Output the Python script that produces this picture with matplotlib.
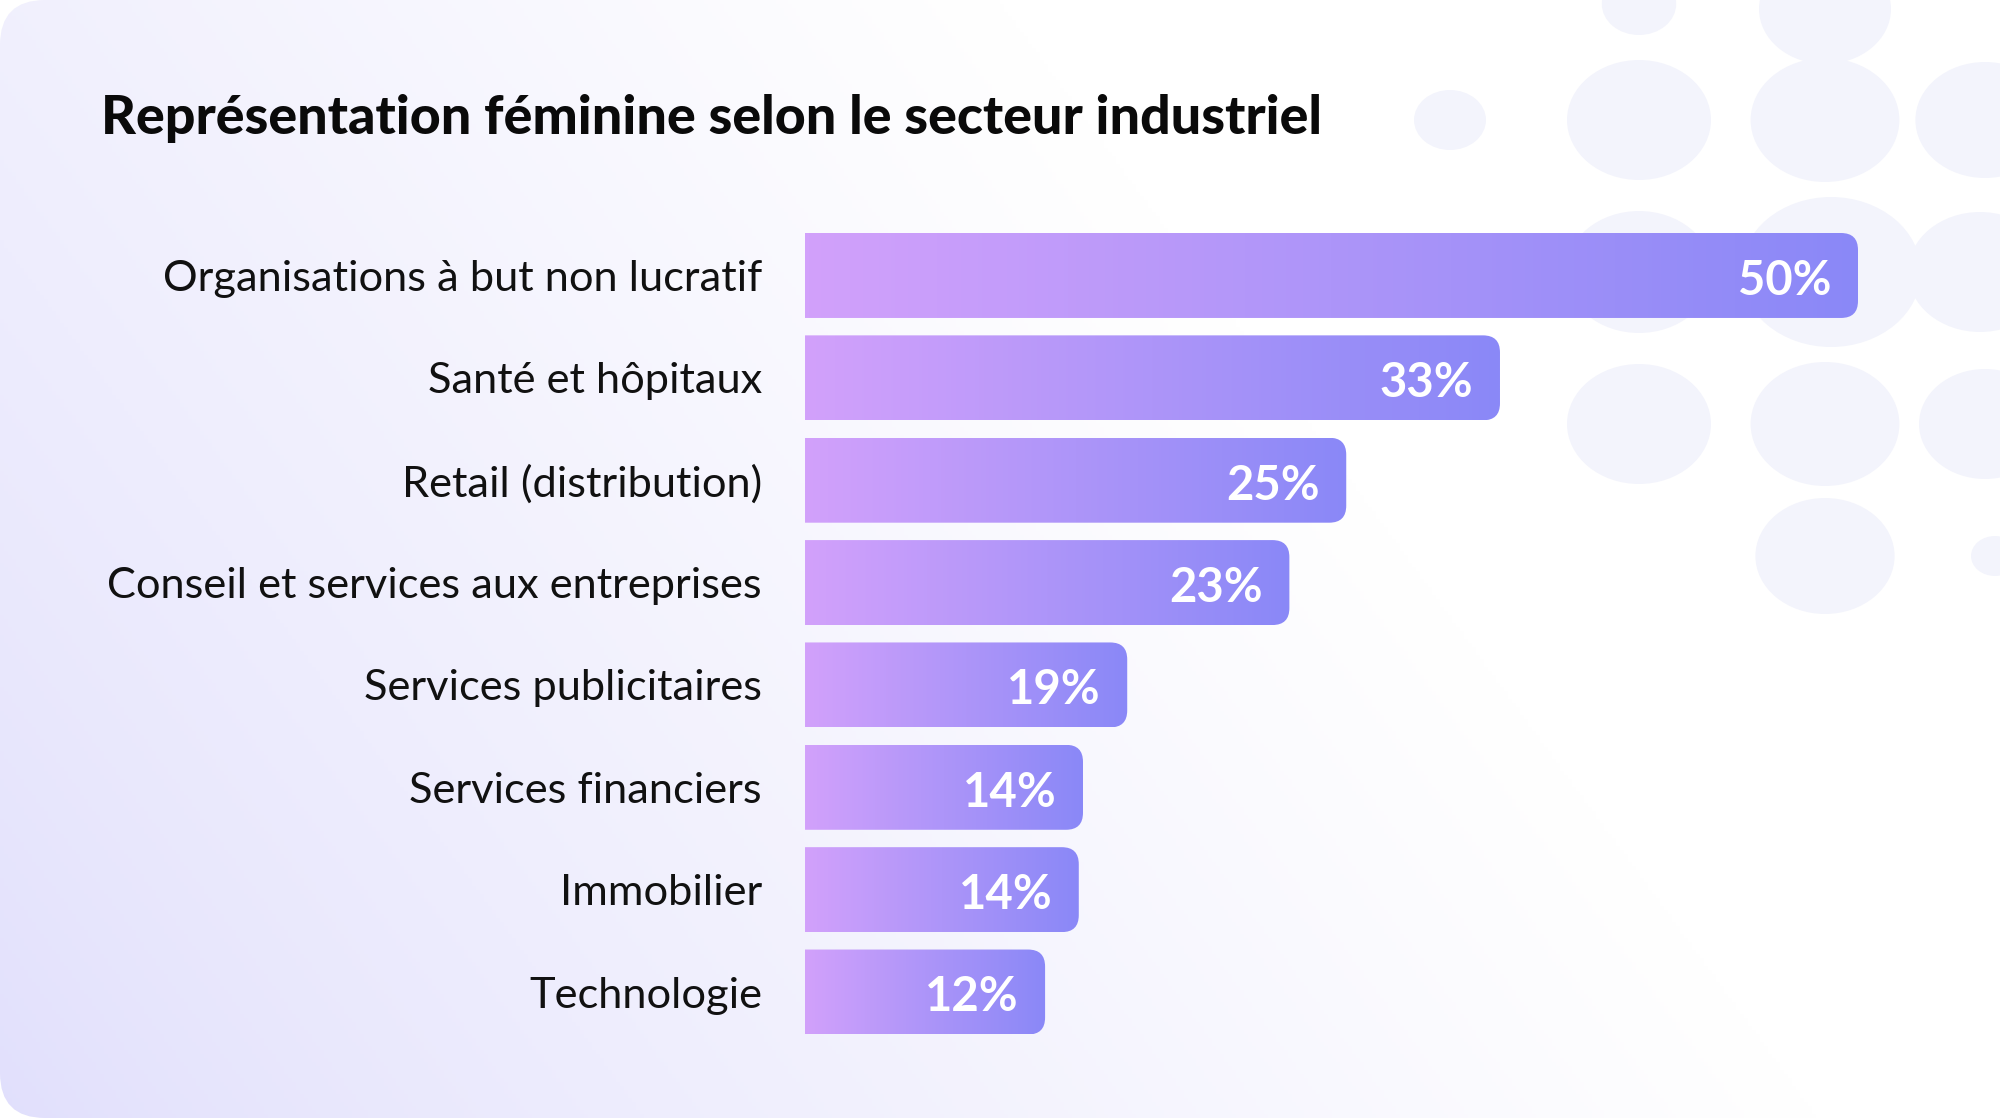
import numpy as np
import matplotlib.pyplot as plt
from matplotlib.colors import LinearSegmentedColormap
from matplotlib.patches import FancyBboxPatch, PathPatch, Ellipse
from matplotlib.path import Path

title = "Représentation féminine selon le secteur industriel"
sectors = [
    "Organisations à but non lucratif",
    "Santé et hôpitaux",
    "Retail (distribution)",
    "Conseil et services aux entreprises",
    "Services publicitaires",
    "Services financiers",
    "Immobilier",
    "Technologie",
]
values = [50, 33, 25, 23, 19, 14, 14, 12]
# lengths of the bars as drawn in the picture (not exactly proportional to the labels)
bar_lengths = [50, 33, 25.7, 23, 15.3, 13.2, 13.0, 11.4]

W, H = 2000, 1118
plt.rcParams['font.family'] = ['Lato', 'DejaVu Sans']
fig = plt.figure(figsize=(W / 100, H / 100), dpi=100)

# background card with a soft lavender gradient
bg = fig.add_axes([0, 0, 1, 1])
bg.set_xlim(0, W)
bg.set_ylim(H, 0)
bg.axis('off')
xx, yy = np.meshgrid(np.linspace(0, 1, 500), np.linspace(0, 1, 280))
t = np.clip(xx * 1.1 + (1 - yy) * 0.45, 0, 1) ** 0.8
lav = np.array([0.882, 0.875, 0.988])
img = lav + (1 - lav) * t[..., None]
im = bg.imshow(img, extent=(0, W, H, 0), aspect='auto', zorder=0)
card = FancyBboxPatch((0, 0), W, H, boxstyle='round,pad=0,rounding_size=45',
                      facecolor='none', edgecolor='none')
bg.add_patch(card)
im.set_clip_path(card)

# faint decorative dots, top right
dots = [(1450, 120, 30), (1639, 120, 60), (1825, 120, 62), (1985, 120, 58),
        (1639, 4, 31), (1825, 9, 55),
        (1639, 272, 61), (1831, 272, 75), (1980, 272, 60),
        (1639, 424, 60), (1825, 424, 62), (1985, 424, 55),
        (1825, 556, 58), (1995, 556, 20)]
for cx, cy, r in dots:
    e = Ellipse((cx, cy), 2.4 * r, 2 * r, facecolor='#f3f4fc', edgecolor='none', zorder=1)
    bg.add_patch(e)
    e.set_clip_path(card)

# bars
px_per_unit = 21.06
ax_left, ax_right = 805, 1950
ax_top, ax_bottom = 224.3, 1043.2
ax = fig.add_axes([ax_left / W, 1 - ax_bottom / H,
                   (ax_right - ax_left) / W, (ax_bottom - ax_top) / H])
ax.patch.set_alpha(0)
for s in ax.spines.values():
    s.set_visible(False)

xmax = (ax_right - ax_left) / px_per_unit
n = len(sectors)
bar_h = 0.83
row_px = (ax_bottom - ax_top) / n
rx = 17 / px_per_unit
ry = 17 / row_px

cmap = LinearSegmentedColormap.from_list('bar', ['#d2a1fb', '#ad95f9', '#8a88f7'])
grad = np.linspace(0, 1, 256).reshape(1, -1)

for i, (L, v) in enumerate(zip(bar_lengths, values)):
    y0, y1 = i - bar_h / 2, i + bar_h / 2
    verts = [(0, y0), (L - rx, y0), (L, y0), (L, y0 + ry), (L, y1 - ry),
             (L, y1), (L - rx, y1), (0, y1), (0, y0)]
    codes = [Path.MOVETO, Path.LINETO, Path.CURVE3, Path.CURVE3, Path.LINETO,
             Path.CURVE3, Path.CURVE3, Path.LINETO, Path.CLOSEPOLY]
    patch = PathPatch(Path(verts, codes), facecolor='none', edgecolor='none')
    ax.add_patch(patch)
    bar_im = ax.imshow(grad, extent=(0, L, y1, y0), cmap=cmap, aspect='auto', zorder=2)
    bar_im.set_clip_path(patch)
    ax.annotate(f"{v}%", xy=(L, i), xytext=(-19, -1), textcoords='offset points',
                ha='right', va='center_baseline', color='white', fontsize=34,
                fontweight='bold', zorder=3)

ax.set_xlim(0, xmax)
ax.set_ylim(n - 0.5, -0.5)
ax.set_xticks([])
ax.set_yticks(range(n))
ax.set_yticklabels(sectors, fontsize=31.2, color='#111111')
ax.tick_params(axis='y', length=0, pad=31)

fig.text(101 / W, 1 - 134 / H, title, fontsize=38.7, fontweight='black',
         color='#0a0a0a', ha='left', va='baseline')

fig.savefig('out.png', dpi=100)
